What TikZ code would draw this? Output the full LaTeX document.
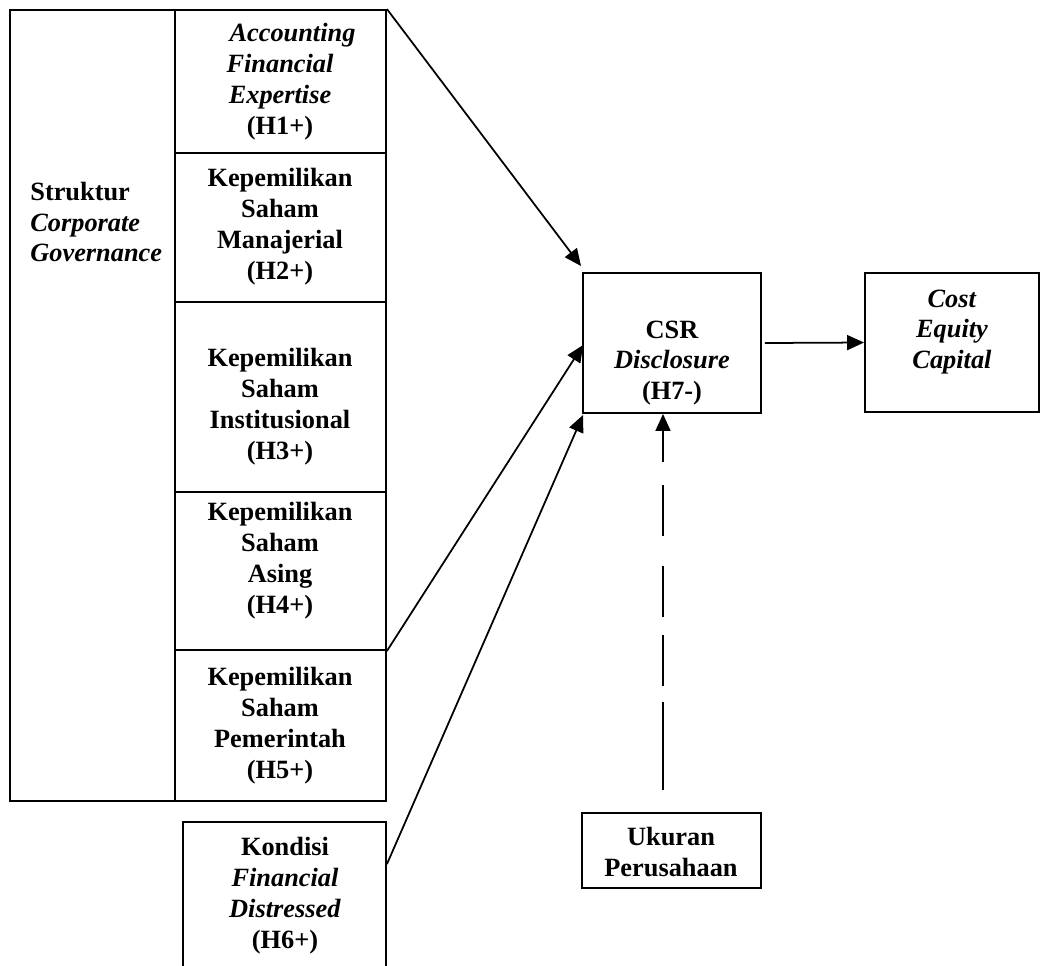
\documentclass[tikz,border=0pt]{standalone}
\usepackage{fontspec}
\setmainfont{Liberation Serif}
\usetikzlibrary{arrows.meta}
\begin{document}
\begin{tikzpicture}[x=0.02cm,y=-0.02cm,
  box/.style={draw, line width=1.1pt, inner sep=0pt, rectangle},
  txt/.style={align=center, inner sep=0pt, font=\fontsize{15}{17.6}\selectfont\bfseries},
  arr/.style={line width=1pt, -{Triangle[length=0.34cm,width=0.3cm]}}]
\useasboundingbox (0,0) rectangle (1040,965);
\clip (0,0) rectangle (1040,965);
% boxes
\node[box, minimum width=7.52cm, minimum height=15.82cm] (cg) at (198,405.5) {};
\node[box, minimum width=4.22cm, minimum height=2.86cm] (h1) at (280.5,81.5) {};
\node[box, minimum width=4.22cm, minimum height=2.98cm] (h2) at (280.5,227.5) {};
\node[box, minimum width=4.22cm, minimum height=3.80cm] (h3) at (280.5,397) {};
\node[box, minimum width=4.22cm, minimum height=3.16cm] (h4) at (280.5,571) {};
\node[box, minimum width=4.22cm, minimum height=3.02cm] (h5) at (280.5,725.5) {};
\node[box, minimum width=4.06cm, minimum height=3.16cm] (h6) at (284.5,901) {};
\node[box, minimum width=3.56cm, minimum height=2.80cm] (csr) at (672,343) {};
\node[box, minimum width=3.48cm, minimum height=2.78cm] (cost) at (952,342.5) {};
\node[box, minimum width=3.58cm, minimum height=1.50cm] (uk) at (671.5,850.5) {};
% texts
\node[txt, align=left, anchor=west] (tcg) at (30,222) {Struktur\\\textit{Corporate}\\\textit{Governance}};
\node[txt] (th1) at (280,82) {\hspace*{0.5cm}\textit{Accounting}\\\textit{Financial}\\\textit{Expertise}\\(H1+)};
\node[txt] (th2) at (280,227) {Kepemilikan\\Saham\\Manajerial\\(H2+)};
\node[txt] (th3) at (280,407) {Kepemilikan\\Saham\\Institusional\\(H3+)};
\node[txt] (th4) at (280,561) {Kepemilikan\\Saham\\Asing\\(H4+)};
\node[txt] (th5) at (280,726) {Kepemilikan\\Saham\\Pemerintah\\(H5+)};
\node[txt] (th6) at (285,896) {Kondisi\\\textit{Financial}\\\textit{Distressed}\\(H6+)};
\node[txt] (tcsr) at (672,363) {CSR\\\textit{Disclosure}\\(H7-)};
\node[txt] (tcost) at (952,332) {\textit{Cost}\\\textit{Equity}\\\textit{Capital}};
\node[txt] (tuk) at (671,852) {Ukuran\\Perusahaan};
% connectors
\coordinate (dstart) at (663,790);
\draw[arr] (h1.north east) -- ([shift={(-1,-6)}]csr.north west);
\draw[arr] (h4.south east) -- ([shift={(1,2)}]csr.west);
\draw[arr] ([shift={(0,43)}]h6.north east) -- ([shift={(1,1)}]csr.south west);
\draw[arr] ([shift={(3,0)}]csr.east) -- (cost.west);
\draw[arr, dash pattern=on 1.76cm off 0.32cm on 1.02cm off 0.36cm on 1.02cm off 0.6cm on 1.02cm off 0.46cm on 3cm] (dstart) -- (dstart |- csr.south);
\end{tikzpicture}
\end{document}
